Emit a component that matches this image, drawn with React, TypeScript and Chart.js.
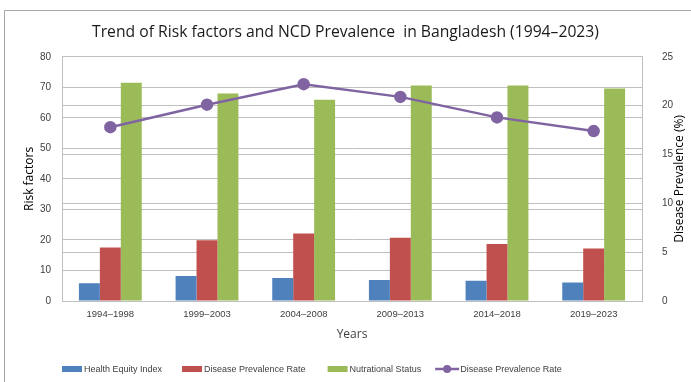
import React, { useEffect, useRef } from "react";
import { Chart, registerables } from "chart.js";

Chart.register(...registerables);

const periods = ["1994–1998", "1999–2003", "2004–2008", "2009–2013", "2014–2018", "2019–2023"];
const healthEquityIndex = [5.8, 8.2, 7.5, 6.9, 6.6, 6.1];
const diseasePrevalenceRate = [17.5, 19.9, 22.1, 20.7, 18.7, 17.2];
const nutritionalStatus = [71.5, 68.0, 65.9, 70.6, 70.6, 69.6];
const diseasePrevalencePct = [17.8, 20.1, 22.2, 20.9, 18.8, 17.4];

const BLUE = "#4F81BD";
const RED = "#C0504D";
const GREEN = "#9BBB59";
const PURPLE = "#8064A2";
const GRID = "#BFBFBF";
const TEXT = "#404040";
const RIGHT_TITLE = "Disease Prevalence (%)";

// Outer frame line along the top and left edge of the canvas
const frame = {
  id: "frame",
  beforeDraw(chart: any) {
    const { ctx, width, height } = chart;
    ctx.save();
    ctx.fillStyle = "#ffffff";
    ctx.fillRect(0, 0, width, height);
    ctx.strokeStyle = "#A6A6A6";
    ctx.lineWidth = 1;
    ctx.beginPath();
    ctx.moveTo(4.5, height);
    ctx.lineTo(4.5, 10.5);
    ctx.lineTo(width, 10.5);
    ctx.stroke();
    ctx.restore();
  },
};

// Right-axis title written bottom-to-top
const rightTitle = {
  id: "rightTitle",
  afterDraw(chart: any) {
    const s = chart.scales.y1;
    const { ctx } = chart;
    ctx.save();
    ctx.translate(s.right - 11, (s.top + s.bottom) / 2);
    ctx.rotate(-Math.PI / 2);
    ctx.fillStyle = "#000000";
    ctx.font = "12px 'Open Sans'";
    ctx.textAlign = "center";
    ctx.textBaseline = "middle";
    ctx.fillText(RIGHT_TITLE, 0, 0);
    ctx.restore();
  },
};

// Legend row under the axis title, starting at the plot's left edge
const legendRow = {
  id: "legendRow",
  afterDraw(chart: any) {
    const { ctx, chartArea } = chart;
    const ds = chart.data.datasets;
    const items = [ds[1], ds[2], ds[3], ds[0]];
    const y = 369;
    let x = chartArea.left;
    ctx.save();
    ctx.font = "9px 'Liberation Sans'";
    ctx.textBaseline = "middle";
    ctx.textAlign = "left";
    items.forEach((d: any, i: number) => {
      const color = d.type === "line" ? d.borderColor : d.backgroundColor;
      if (d.type === "line") {
        x -= 8;
        ctx.strokeStyle = color;
        ctx.fillStyle = color;
        ctx.lineWidth = 2.5;
        ctx.beginPath();
        ctx.moveTo(x, y);
        ctx.lineTo(x + 24, y);
        ctx.stroke();
        ctx.beginPath();
        ctx.arc(x + 12, y, 4, 0, Math.PI * 2);
        ctx.fill();
        x += 25;
      } else {
        ctx.fillStyle = color;
        ctx.fillRect(x, y - 3, 20, 6);
        x += 22;
      }
      ctx.fillStyle = TEXT;
      ctx.fillText(d.label, x, y + 0.5);
      x += ctx.measureText(d.label).width + (i === 0 ? 20 : 22);
    });
    ctx.restore();
  },
};

export default function App() {
  const ref = useRef<HTMLCanvasElement | null>(null);

  useEffect(() => {
    if (!ref.current) return;
    const chart = new Chart(ref.current, {
      type: "bar",
      data: {
        labels: periods,
        datasets: [
          {
            type: "line",
            label: "Disease Prevalence Rate",
            data: diseasePrevalencePct,
            yAxisID: "y1",
            borderColor: PURPLE,
            backgroundColor: PURPLE,
            borderWidth: 2.5,
            pointRadius: 5,
            pointHoverRadius: 5,
            tension: 0,
            order: 0,
          } as any,
          {
            label: "Health Equity Index",
            data: healthEquityIndex,
            backgroundColor: BLUE,
            yAxisID: "y",
            order: 1,
          },
          {
            label: "Disease Prevalence Rate",
            data: diseasePrevalenceRate,
            backgroundColor: RED,
            yAxisID: "y",
            order: 1,
          },
          {
            label: "Nutrational Status",
            data: nutritionalStatus,
            backgroundColor: GREEN,
            yAxisID: "y",
            order: 1,
          },
        ],
      },
      options: {
        responsive: false,
        animation: false,
        layout: { padding: { top: 0, left: 0, right: 0, bottom: 38 } },
        datasets: { bar: { barPercentage: 1, categoryPercentage: 0.65 } },
        scales: {
          x: {
            grid: { display: false, drawTicks: false },
            border: { color: GRID },
            ticks: { color: TEXT, font: { family: "Liberation Sans", size: 9.5 }, padding: 8, maxRotation: 0 },
            title: {
              display: true,
              text: "Years",
              color: TEXT,
              font: { family: "Open Sans", size: 12 },
              padding: { top: 0, bottom: 2 },
            },
            afterFit: (s: any) => {
              s.height = 43;
            },
          },
          y: {
            position: "left",
            min: 0,
            max: 80,
            ticks: { stepSize: 10, color: TEXT, font: { family: "Liberation Sans", size: 10 }, padding: 11 },
            grid: { color: GRID, drawTicks: false },
            border: { color: GRID },
            title: {
              display: true,
              text: "Risk factors",
              color: "#000000",
              font: { family: "Open Sans", size: 12 },
              padding: { top: 22, bottom: 3 },
            },
            afterFit: (s: any) => {
              s.width = 62;
            },
          },
          y1: {
            position: "right",
            min: 0,
            max: 25,
            ticks: { stepSize: 5, color: TEXT, font: { family: "Liberation Sans", size: 10 }, padding: 20 },
            grid: { color: GRID, drawTicks: false },
            border: { color: GRID },
            afterFit: (s: any) => {
              s.width = 49;
            },
          },
        },
        plugins: {
          title: {
            display: true,
            text: "Trend of Risk factors and NCD Prevalence  in Bangladesh (1994–2023)",
            color: "#1a1a1a",
            font: { family: "Open Sans", size: 15.7, weight: "normal" },
            padding: { top: 23, bottom: 15 },
          },
          legend: { display: false },
          tooltip: { enabled: false },
        },
      },
      plugins: [frame, rightTitle, legendRow],
    });
    return () => chart.destroy();
  }, []);

  return (
    <div style={{ position: "fixed", left: 0, top: 0, width: 691, height: 382, background: "#fff" }}>
      <canvas ref={ref} width={691} height={382} style={{ display: "block" }} />
    </div>
  );
}
